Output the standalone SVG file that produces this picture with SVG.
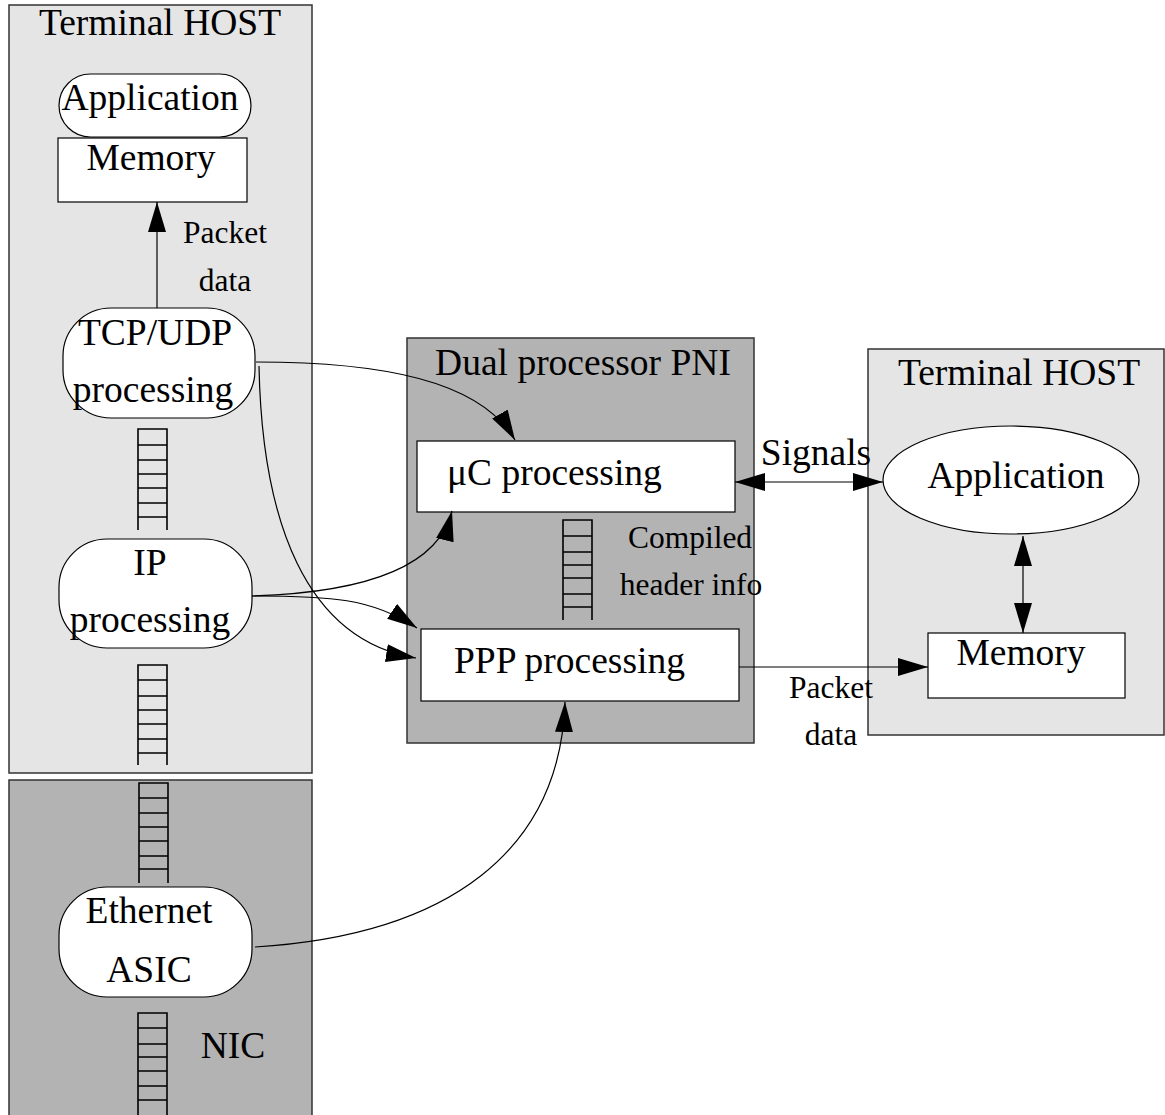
<svg xmlns="http://www.w3.org/2000/svg" width="1165" height="1115" viewBox="0 0 1165 1115">
<defs>
<style>
.t{font-family:"Liberation Serif","Times New Roman",serif;fill:#000}
.big{font-size:37.5px}
.med{font-size:31.5px}
.panel{stroke:#333;stroke-width:1.5}
.light{fill:#e5e5e5}
.dark{fill:#b3b3b3}
.node{fill:#fff;stroke:#000;stroke-width:1.2}
.q{fill:none;stroke:#000;stroke-width:1.6}
.c{fill:none;stroke:#000;stroke-width:1.2}
</style>
<marker id="ah" viewBox="0 0 30 18" refX="30" refY="9" markerWidth="30" markerHeight="18" markerUnits="userSpaceOnUse" orient="auto-start-reverse">
<path d="M0,0 L30,9 L0,18 z" fill="#000"/>
</marker>
</defs>
<rect width="1165" height="1115" fill="#fff"/>

<g id="panel-host-left">
<rect class="panel light" x="9" y="5" width="303" height="768"/>
<text class="t big" x="160" y="35" text-anchor="middle">Terminal HOST</text>
</g>
<g id="panel-nic">
<rect class="panel dark" x="9" y="780" width="303" height="340"/>
<text class="t big" x="233" y="1058" text-anchor="middle">NIC</text>
</g>
<g id="panel-pni">
<rect class="panel dark" x="407" y="338" width="347" height="405"/>
<text class="t big" x="583" y="375" text-anchor="middle">Dual processor PNI</text>
</g>
<g id="panel-host-right">
<rect class="panel light" x="868" y="349" width="296" height="386"/>
<text class="t big" x="1019" y="385" text-anchor="middle">Terminal HOST</text>
</g>

<g id="queues">
<g id="queue1">
<path class="q" d="M138,530 V429 H167 V530 M138,445 H167 M138,460 H167 M138,474 H167 M138,488 H167 M138,503 H167 M138,517 H167"/>
</g>
<g id="queue2">
<path class="q" d="M138,765 V665 H167 V765 M138,680 H167 M138,696 H167 M138,710 H167 M138,724 H167 M138,739 H167 M138,753 H167"/>
</g>
<g id="queue3">
<path class="q" d="M139,883 V783 H168 V883 M139,798 H168 M139,813 H168 M139,827 H168 M139,841 H168 M139,856 H168 M139,869 H168"/>
</g>
<g id="queue4">
<path class="q" d="M138,1115 V1013 H167 V1115 M138,1028 H167 M138,1044 H167 M138,1057 H167 M138,1071 H167 M138,1086 H167 M138,1100 H167"/>
</g>
<g id="queue5">
<path class="q" d="M563,620 V520 H592 V620 M563,536 H592 M563,552 H592 M563,565 H592 M563,578 H592 M563,594 H592 M563,607 H592"/>
</g>
</g>

<g id="app-left">
<rect class="node" x="59" y="74" width="192" height="63" rx="31.5"/>
<text class="t big" x="150" y="110" text-anchor="middle">Application</text>
</g>
<g id="mem-left">
<rect class="node" x="58" y="138" width="189" height="64"/>
<text class="t big" x="151" y="170" text-anchor="middle">Memory</text>
</g>
<g id="tcp">
<rect class="node" x="63" y="308" width="192" height="110" rx="48"/>
<text class="t big" x="155" y="345" text-anchor="middle">TCP/UDP</text>
<text class="t big" x="153" y="402" text-anchor="middle">processing</text>
</g>
<g id="ip">
<rect class="node" x="59" y="539" width="193" height="109" rx="48"/>
<text class="t big" x="150" y="575" text-anchor="middle">IP</text>
<text class="t big" x="150" y="632" text-anchor="middle">processing</text>
</g>
<g id="eth">
<rect class="node" x="59" y="887" width="193" height="110" rx="48"/>
<text class="t big" x="149" y="923" text-anchor="middle">Ethernet</text>
<text class="t big" x="149" y="982" text-anchor="middle">ASIC</text>
</g>
<g id="uc">
<rect class="node" x="417" y="441" width="318" height="71"/>
<text class="t big" x="447" y="485">μC processing</text>
</g>
<g id="ppp">
<rect class="node" x="421" y="629" width="318" height="72"/>
<text class="t big" x="454" y="673">PPP processing</text>
</g>
<g id="app-right">
<ellipse class="node" cx="1011" cy="480" rx="128" ry="54"/>
<text class="t big" x="1016" y="488" text-anchor="middle">Application</text>
</g>
<g id="mem-right">
<rect class="node" x="928" y="633" width="197" height="65"/>
<text class="t big" x="1021" y="665" text-anchor="middle">Memory</text>
</g>

<g id="labels">
<text class="t med" x="225" y="243" text-anchor="middle">Packet</text>
<text class="t med" x="225" y="291" text-anchor="middle">data</text>
<text class="t med" x="690" y="548" text-anchor="middle">Compiled</text>
<text class="t med" x="691" y="595" text-anchor="middle">header info</text>
<text class="t big" x="816" y="465" text-anchor="middle">Signals</text>
<text class="t med" x="831" y="698" text-anchor="middle">Packet</text>
<text class="t med" x="831" y="745" text-anchor="middle">data</text>
</g>

<g id="connectors">
<path class="c" d="M157,308 V202" marker-end="url(#ah)"/>
<path class="c" d="M256,362 C380,362 480,380 515,440" marker-end="url(#ah)"/>
<path class="c" d="M259,366 C262,520 305,640 416,658" marker-end="url(#ah)"/>
<path class="c" d="M252,596 C380,592 440,560 452,511" marker-end="url(#ah)"/>
<path class="c" d="M252,596 C330,596 372,598 417,628" marker-end="url(#ah)"/>
<path class="c" d="M255,947 C450,935 560,850 565,702" marker-end="url(#ah)"/>
<path class="c" d="M735,482 H883" marker-start="url(#ah)" marker-end="url(#ah)"/>
<path class="c" d="M1023,536 V633" marker-start="url(#ah)" marker-end="url(#ah)"/>
<path class="c" d="M739,667 H928" marker-end="url(#ah)"/>
</g>
</svg>
